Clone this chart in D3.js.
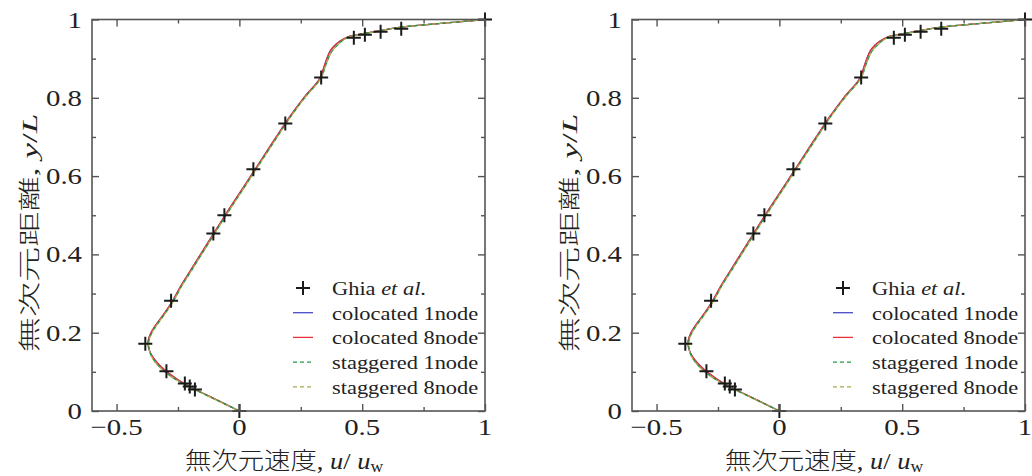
<!DOCTYPE html>
<html lang="ja">
<head>
<meta charset="UTF-8">
<title>Cavity flow u-velocity profile</title>
<script src="https://d3js.org/d3.v7.min.js"></script>
<style>
  body { margin: 0; background: #fff; }
  .tick-label { font-family: "Liberation Serif", "DejaVu Serif", serif; font-size: 24px; fill: #222; }
  .legend-text { font-family: "Liberation Serif", serif; font-size: 19px; fill: #222; }
  .axis-title { fill: #222; }
  .cjk { font-family: "Noto Sans CJK JP", sans-serif; font-weight: 300; }
  .serif { font-family: "Liberation Serif", serif; }
</style>
</head>
<body>
<svg width="1032" height="476"></svg>
<script>
// Ghia et al. reference points
const ghiaU = [1.0, 0.659, 0.575, 0.511, 0.466, 0.333, 0.187, 0.057, -0.061, -0.106, -0.278, -0.383, -0.297, -0.222, -0.202, -0.181, 0.0];
const ghiaY = [1.0, 0.9766, 0.9688, 0.9609, 0.9531, 0.8516, 0.7344, 0.6172, 0.5, 0.4531, 0.2813, 0.1719, 0.1016, 0.0703, 0.0625, 0.0547, 0.0];

// simulated profiles, sampled by eye along the curves
const simY = [0, 0.02, 0.04, 0.06, 0.08, 0.10, 0.12, 0.14, 0.16, 0.18, 0.20, 0.22, 0.25, 0.28, 0.32, 0.36, 0.40, 0.45, 0.50, 0.55, 0.60, 0.65, 0.70, 0.75, 0.80, 0.85, 0.88, 0.90, 0.92, 0.935, 0.945, 0.955, 0.96, 0.97, 0.98, 0.99, 1.0];
const colo1U = [0, -0.065, -0.13, -0.195, -0.25, -0.295, -0.33, -0.355, -0.369, -0.371, -0.36, -0.34, -0.305, -0.273, -0.238, -0.198, -0.158, -0.108, -0.058, -0.006, 0.046, 0.098, 0.15, 0.203, 0.262, 0.328, 0.345, 0.356, 0.37, 0.39, 0.41, 0.44, 0.47, 0.56, 0.65, 0.82, 1.0];
const colo8U = [0, -0.065, -0.13, -0.195, -0.25, -0.295, -0.33, -0.355, -0.369, -0.371, -0.36, -0.34, -0.305, -0.273, -0.238, -0.198, -0.158, -0.108, -0.058, -0.006, 0.046, 0.098, 0.15, 0.203, 0.262, 0.328, 0.345, 0.356, 0.37, 0.39, 0.41, 0.44, 0.47, 0.56, 0.65, 0.82, 1.0];
const stag1U = [0, -0.066, -0.133, -0.2, -0.258, -0.303, -0.336, -0.358, -0.368, -0.368, -0.356, -0.336, -0.301, -0.269, -0.234, -0.194, -0.154, -0.104, -0.054, -0.002, 0.05, 0.102, 0.154, 0.207, 0.266, 0.332, 0.35, 0.362, 0.378, 0.4, 0.418, 0.446, 0.474, 0.562, 0.652, 0.82, 1.0];
const stag8U = [0, -0.066, -0.133, -0.2, -0.258, -0.303, -0.336, -0.358, -0.368, -0.368, -0.356, -0.336, -0.301, -0.269, -0.234, -0.194, -0.154, -0.104, -0.054, -0.002, 0.05, 0.102, 0.154, 0.207, 0.266, 0.332, 0.35, 0.362, 0.378, 0.4, 0.418, 0.446, 0.474, 0.562, 0.652, 0.82, 1.0];

const xTicks = [-0.5, 0, 0.5, 1];
const xMinor = [-0.25, 0.25, 0.75];
const yTicks = [0, 0.2, 0.4, 0.6, 0.8, 1];
const yMinor = [0.1, 0.3, 0.5, 0.7, 0.9];

const seriesNames = ["colocated 1node", "colocated 8node", "staggered 1node", "staggered 8node"];
const seriesColors = ["#4b4bc8", "#e8303c", "#1f9a45", "#a8a84a"];
const seriesDash = [null, null, "4,3", "4,3"];
const seriesU = [colo1U, colo8U, stag1U, stag8U];

const svg = d3.select("svg");
const frameColor = "#555";
const stretch = 1.2; // the source figure's text is drawn wide

function drawPanel(left) {
  const width = 393;
  const top = 19.5, bottom = 411;
  const x = d3.scaleLinear().domain([-0.6, 1]).range([left, left + width]);
  const y = d3.scaleLinear().domain([0, 1]).range([bottom, top]);
  const g = svg.append("g");

  // curves
  const line = d3.line()
    .x(d => x(d[0]))
    .y(d => y(d[1]))
    .curve(d3.curveCatmullRom.alpha(0.5));

  seriesU.forEach((us, i) => {
    g.append("path")
      .datum(us.map((u, j) => [u, simY[j]]))
      .attr("d", line)
      .attr("fill", "none")
      .attr("stroke", seriesColors[i])
      .attr("stroke-width", 1.3)
      .attr("stroke-dasharray", seriesDash[i])
      .attr("stroke-dashoffset", i === 3 ? 3.5 : 0);
  });

  // Ghia markers
  const ms = 7;
  g.selectAll(".ghia")
    .data(ghiaU.map((u, j) => [u, ghiaY[j]]))
    .enter().append("path")
    .attr("d", d => `M${x(d[0]) - ms},${y(d[1])}H${x(d[0]) + ms}M${x(d[0])},${y(d[1]) - ms}V${y(d[1]) + ms}`)
    .attr("stroke", "#1a1a1a")
    .attr("stroke-width", 2);

  // axes (ticks inside on all four sides)
  g.append("g").attr("transform", `translate(0,${bottom})`)
    .call(d3.axisBottom(x).tickValues(xTicks).tickSize(-7).tickFormat(""));
  g.append("g").attr("transform", `translate(0,${bottom})`)
    .call(d3.axisBottom(x).tickValues(xMinor).tickSize(-4).tickFormat(""));
  g.append("g").attr("transform", `translate(0,${top})`)
    .call(d3.axisTop(x).tickValues(xTicks).tickSize(-7).tickFormat(""));
  g.append("g").attr("transform", `translate(0,${top})`)
    .call(d3.axisTop(x).tickValues(xMinor).tickSize(-4).tickFormat(""));
  g.append("g").attr("transform", `translate(${left},0)`)
    .call(d3.axisLeft(y).tickValues(yTicks).tickSize(-7).tickFormat(""));
  g.append("g").attr("transform", `translate(${left},0)`)
    .call(d3.axisLeft(y).tickValues(yMinor).tickSize(-4).tickFormat(""));
  g.append("g").attr("transform", `translate(${left + width},0)`)
    .call(d3.axisRight(y).tickValues(yTicks).tickSize(-7).tickFormat(""));
  g.append("g").attr("transform", `translate(${left + width},0)`)
    .call(d3.axisRight(y).tickValues(yMinor).tickSize(-4).tickFormat(""));
  g.selectAll(".domain").remove();
  g.selectAll(".tick line").attr("stroke", frameColor).attr("stroke-width", 1.4);

  g.append("rect")
    .attr("x", left).attr("y", top)
    .attr("width", width).attr("height", bottom - top)
    .attr("fill", "none").attr("stroke", frameColor).attr("stroke-width", 1.6);

  // tick labels
  g.selectAll(".xl").data(xTicks).enter().append("text")
    .attr("class", "tick-label")
    .attr("transform", d => `translate(${x(d)},${bottom + 24}) scale(${stretch},1)`)
    .attr("text-anchor", "middle")
    .text(d => d3.format("")(d));
  g.selectAll(".yl").data(yTicks).enter().append("text")
    .attr("class", "tick-label")
    .attr("transform", d => `translate(${left - 10},${y(d) + 8}) scale(${stretch},1)`)
    .attr("text-anchor", "end")
    .text(d => d3.format("")(d));

  // axis titles
  const xt = g.append("text").attr("class", "axis-title")
    .attr("font-size", 24)
    .attr("transform", `translate(${left + 192},469) scale(1.1,1)`)
    .attr("text-anchor", "middle");
  xt.append("tspan").attr("class", "cjk").text("無次元速度");
  xt.append("tspan").attr("class", "serif").text(", ");
  xt.append("tspan").attr("class", "serif").attr("font-style", "italic").text("u");
  xt.append("tspan").attr("class", "serif").text("/ ");
  xt.append("tspan").attr("class", "serif").attr("font-style", "italic").text("u");
  xt.append("tspan").attr("class", "serif").attr("font-size", "16px").attr("dy", 3).text("w");

  const yt = g.append("text").attr("class", "axis-title")
    .attr("font-size", 22)
    .attr("transform", `translate(${left - 55},233) rotate(-90) scale(1.6,1)`)
    .attr("text-anchor", "middle");
  yt.append("tspan").attr("class", "cjk").text("無次元距離");
  yt.append("tspan").attr("class", "serif").text(", ");
  yt.append("tspan").attr("class", "serif").attr("font-style", "italic").text("y");
  yt.append("tspan").attr("class", "serif").text("/");
  yt.append("tspan").attr("class", "serif").attr("font-style", "italic").text("L");

  // legend
  const lx = left + 202, ly = 288, dyRow = 24.7;
  g.append("path")
    .attr("d", `M${lx + 2},${ly}H${lx + 16}M${lx + 9},${ly - 7}V${ly + 7}`)
    .attr("stroke", "#1a1a1a").attr("stroke-width", 2);
  const gt = g.append("text").attr("class", "legend-text")
    .attr("transform", `translate(${lx + 38},${ly + 7}) scale(1.18,1)`);
  gt.append("tspan").text("Ghia ");
  gt.append("tspan").attr("font-style", "italic").text("et al");
  gt.append("tspan").text(".");
  seriesNames.forEach((name, i) => {
    const yy = ly + dyRow * (i + 1);
    g.append("line")
      .attr("x1", lx - 1).attr("x2", lx + 19)
      .attr("y1", yy).attr("y2", yy)
      .attr("stroke", seriesColors[i]).attr("stroke-width", 1.3)
      .attr("stroke-dasharray", seriesDash[i]);
    g.append("text").attr("class", "legend-text")
      .attr("transform", `translate(${lx + 38},${yy + 7}) scale(1.18,1)`)
      .text(name);
  });
}

drawPanel(92);
drawPanel(632);
</script>
</body>
</html>
